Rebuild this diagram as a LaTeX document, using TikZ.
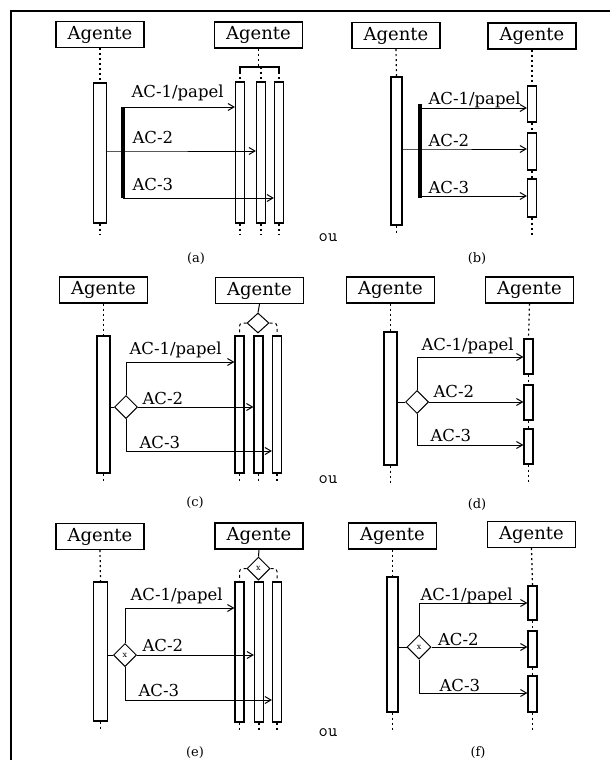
\documentclass[tikz,border=0pt]{standalone}
\usepackage{fontspec}
\setmainfont{DejaVu Serif}
\usepackage{tikz}
\usetikzlibrary{arrows.meta,shapes.geometric}

\begin{document}
\begin{tikzpicture}[
  x=1pt, y=-1pt,
  agent/.style={
    draw,
    line width=1.3pt,
    inner sep=0pt,
    minimum width=88pt,
    minimum height=26pt,
    font=\fontsize{18}{18}\selectfont
  },
  actbar/.style={draw, line width=1.2pt, inner sep=0pt, minimum width=13pt},
  thinbar/.style={actbar, minimum width=9pt},
  life/.style={line width=1.2pt, dash pattern=on 2pt off 3pt},
  msg/.style={line width=1pt, -{Straight Barb[length=6pt,width=7pt]}},
  link/.style={line width=1pt},
  fork/.style={line width=4pt},
  bracket/.style={line width=2pt},
  choice/.style={
    draw,
    diamond,
    line width=1pt,
    inner sep=0pt,
    minimum width=23pt,
    minimum height=23pt,
    fill=white,
    font=\fontsize{8}{8}\selectfont
  },
  alt/.style={line width=1pt, dashed, rounded corners=3pt},
  lbl/.style={anchor=base west, inner sep=0pt, font=\fontsize{16.5}{16.5}\selectfont},
  caption/.style={font=\fontsize{13}{13}\selectfont},
  orword/.style={font=\ttfamily\fontsize{18}{18}\selectfont}
]
\useasboundingbox (0,0) rectangle (610,760);

% Frame
\draw[line width=2pt] (11,760) -- (11,11) -- (610,11);

% (a) fork to three roles
\node[agent] (a-src) at (100,34.5) {Agente};
\node[agent] (a-dst) at (258.5,35) {Agente};
\node[actbar, minimum height=140pt] (a-bar) at (100,153) {};
\node[thinbar, minimum height=141pt] (a-r1) at (240,152.5) {};
\node[thinbar, minimum height=141pt] (a-r2) at (261,152.5) {};
\node[thinbar, minimum height=141pt] (a-r3) at (279,152.5) {};
\coordinate (a-bl) at (258.5,67);
\coordinate (a-f1) at (123,107);
\coordinate (a-f2) at (123,151);
\coordinate (a-f3) at (123,198);

\draw[life] (a-src.south) -- (a-bar.north);
\draw[life] (a-bar.south) -- ++(0,11);
\draw[life] (a-dst.south) -- (a-bl);
\draw[bracket] (a-r1.north |- a-bl) ++(0,5) -- ++(0,-5) -- (a-r3.north |- a-bl) -- ++(0,5);
\foreach \b in {a-r1,a-r2,a-r3} {
  \draw[life] (\b.north |- a-bl) -- (\b.north);
  \draw[life] (\b.south) -- ++(0,11);
}
\draw[fork] (a-f1) -- (a-f3);
\draw[msg] (a-f1) -- node[lbl, pos=0, xshift=8, yshift=10] (a-l1) {AC-1/papel} (a-f1 -| a-r1.west);
\draw[msg] (a-bar.east |- a-f2) -- (a-f2) node[lbl, xshift=9, yshift=7.5] (a-l2) {AC-2} -- (a-f2 -| a-r2.west);
\draw[msg] (a-f3) -- node[lbl, pos=0, xshift=9, yshift=8] (a-l3) {AC-3} (a-f3 -| a-r3.west);
\node[caption] (a-cap) at (196,259) {(a)};
\node[orword] (ou-1) at (328,238) {ou};

% (b) fork to one role
\node[agent] (b-src) at (396,35.5) {Agente};
\node[agent] (b-dst) at (532,36) {Agente};
\node[actbar, minimum width=11pt, minimum height=148pt] (b-bar) at (396.5,151) {};
\node[thinbar, minimum height=36pt] (b-r1) at (532,104) {};
\node[thinbar, minimum height=37pt] (b-r2) at (532,151.5) {};
\node[thinbar, minimum height=38pt] (b-r3) at (532,198) {};
\coordinate (b-ft) at (420,104);
\coordinate (b-f1) at (420,108);
\coordinate (b-f2) at (420,149);
\coordinate (b-f3) at (420,198);

\draw[life] (b-src.south) -- (b-bar.north);
\draw[life] (b-bar.south) -- ++(0,9);
\draw[life] (b-dst.south) -- (b-r1.north);
\draw[life] (b-r1.south) -- (b-r2.north);
\draw[life] (b-r2.south) -- (b-r3.north);
\draw[life] (b-r3.south) -- ++(0,17);
\draw[fork] (b-ft) -- (b-f3);
\draw[msg] (b-f1) -- node[lbl, pos=0, xshift=8, yshift=4] (b-l1) {AC-1/papel} (b-f1 -| b-r1.west);
\draw[msg] (b-bar.east |- b-f2) -- (b-f2) node[lbl, xshift=8, yshift=3] (b-l2) {AC-2} -- (b-f2 -| b-r2.west);
\draw[msg] ([yshift=2pt]b-f3) -- node[lbl, pos=0, xshift=8, yshift=3] (b-l3) {AC-3} ([yshift=2pt]b-f3 -| b-r3.west);
\node[caption] (b-cap) at (477,259) {(b)};

% (c) decision to three roles
\node[agent] (c-src) at (103.5,290) {Agente};
\node[agent] (c-dst) at (259.5,290.5) {Agente};
\node[actbar, minimum height=137pt] (c-bar) at (103.5,404.5) {};
\node[thinbar, minimum height=137pt] (c-r1) at (239.5,404.5) {};
\node[thinbar, minimum height=137pt] (c-r2) at (258.5,404.5) {};
\node[thinbar, minimum height=137pt] (c-r3) at (277,404.5) {};
\node[choice, minimum width=22pt, minimum height=20pt] (c-dd) at (258,323) {};
\node[choice] (c-dl) at (126,407) {};
\coordinate (c-t1) at (126,362);
\coordinate (c-t3) at (126,451);

\draw[life] (c-src.south) -- (c-bar.north);
\draw[life] (c-bar.south) -- ++(0,8);
\draw[link] (c-dst.south) -- (c-dd.north);
\draw[alt] (c-dd.west) -| (c-r1.north);
\draw[alt] (c-dd.east) -| (c-r3.north);
\foreach \b in {c-r1,c-r2,c-r3}
  \draw[life] (\b.south) -- ++(0,8);
\draw[link] (c-bar.east |- c-dl.west) -- (c-dl.west);
\draw[msg] (c-dl.north) -- (c-t1) -- node[lbl, pos=0, xshift=3, yshift=8] (c-l1) {AC-1/papel} (c-t1 -| c-r1.west);
\draw[msg] (c-dl.east) -- node[lbl, pos=0, xshift=4, yshift=3] (c-l2) {AC-2} (c-dl.east -| c-r2.west);
\draw[msg] (c-dl.south) -- (c-t3) -- node[lbl, pos=0, xshift=13, yshift=3] (c-l3) {AC-3} (c-t3 -| c-r3.west);
\node[caption] (c-cap) at (195,503) {(c)};
\node[orword] (ou-2) at (328,480) {ou};

% (d) decision to one role
\node[agent] (d-src) at (390.5,290) {Agente};
\node[agent] (d-dst) at (529.5,290) {Agente};
\node[actbar, minimum height=133pt] (d-bar) at (390.5,398.5) {};
\node[thinbar, minimum height=35pt] (d-r1) at (528.5,356.5) {};
\node[thinbar, minimum height=35pt] (d-r2) at (528.5,402.5) {};
\node[thinbar, minimum height=35pt] (d-r3) at (528.5,446.5) {};
\node[choice] (d-dl) at (417,402) {};
\coordinate (d-t1) at (417,357);
\coordinate (d-t3) at (417,445);

\draw[life] (d-src.south) -- (d-bar.north);
\draw[life] (d-bar.south) -- ++(0,17);
\draw[life] (d-dst.south) -- (d-r1.north);
\draw[life] (d-r1.south) -- (d-r2.north);
\draw[life] (d-r2.south) -- (d-r3.north);
\draw[life] (d-r3.south) -- ++(0,19);
\draw[link] (d-bar.east |- d-dl.west) -- (d-dl.west);
\draw[msg] (d-dl.north) -- (d-t1) -- node[lbl, pos=0, xshift=4, yshift=7] (d-l1) {AC-1/papel} (d-t1 -| d-r1.west);
\draw[msg] (d-dl.east) -- node[lbl, pos=0, xshift=4, yshift=5] (d-l2) {AC-2} (d-dl.east -| d-r2.west);
\draw[msg] (d-dl.south) -- (d-t3) -- node[lbl, pos=0, xshift=13, yshift=4] (d-l3) {AC-3} (d-t3 -| d-r3.west);
\node[caption] (d-cap) at (477,505) {(d)};

% (e) exclusive decision to three roles
\node[agent] (e-src) at (100,536.5) {Agente};
\node[agent] (e-dst) at (259,536) {Agente};
\node[actbar, minimum width=14pt, minimum height=139pt] (e-bar) at (100.5,651.5) {};
\node[thinbar, minimum height=140pt] (e-r1) at (239.5,652) {};
\node[thinbar, minimum height=140pt] (e-r2) at (259,652) {};
\node[thinbar, minimum height=140pt] (e-r3) at (277,652) {};
\node[choice] (e-dd) at (258.5,568.5) {x};
\node[choice] (e-dl) at (125,655) {x};
\coordinate (e-t1) at (125,608);
\coordinate (e-t3) at (125,700);

\draw[life] (e-src.south) -- (e-bar.north);
\draw[life] (e-bar.south) -- ++(0,8);
\draw[link] (e-dst.south) -- (e-dd.north);
\draw[alt] (e-dd.west) -| (e-r1.north);
\draw[alt] (e-dd.east) -| (e-r3.north);
\foreach \b in {e-r1,e-r2,e-r3}
  \draw[life] (\b.south) -- ++(0,8);
\draw[link] (e-bar.east |- e-dl.west) -- (e-dl.west);
\draw[msg] (e-dl.north) -- (e-t1) -- node[lbl, pos=0, xshift=5, yshift=8] (e-l1) {AC-1/papel} (e-t1 -| e-r1.west);
\draw[msg] (e-dl.east) -- node[lbl, pos=0, xshift=5, yshift=4] (e-l2) {AC-2} (e-dl.east -| e-r2.west);
\draw[msg] (e-dl.south) -- (e-t3) -- node[lbl, pos=0, xshift=13, yshift=4] (e-l3) {AC-3} (e-t3 -| e-r3.west);
\node[caption] (e-cap) at (195,753) {(e)};
\node[orword] (ou-3) at (328,733) {ou};

% (f) exclusive decision to one role
\node[agent] (f-src) at (392.5,536) {Agente};
\node[agent] (f-dst) at (531.5,534.5) {Agente};
\node[actbar, minimum width=11pt, minimum height=135pt] (f-bar) at (392.5,644.5) {};
\node[thinbar, minimum height=34pt] (f-r1) at (532.5,603) {};
\node[thinbar, minimum height=36pt] (f-r2) at (532.5,649) {};
\node[thinbar, minimum height=36pt] (f-r3) at (532.5,694) {};
\node[choice, minimum width=24pt, minimum height=24pt] (f-dl) at (419,647) {x};
\coordinate (f-t1) at (419,603);
\coordinate (f-t3) at (419,693);

\draw[life] (f-src.south) -- (f-bar.north);
\draw[life] (f-bar.south) -- ++(0,18);
\draw[life] (f-dst.south) -- (f-r1.north);
\draw[life] (f-r1.south) -- (f-r2.north);
\draw[life] (f-r2.south) -- (f-r3.north);
\draw[life] (f-r3.south) -- ++(0,18);
\draw[link] (f-bar.east |- f-dl.west) -- (f-dl.west);
\draw[msg] (f-dl.north) -- (f-t1) -- node[lbl, pos=0, xshift=1, yshift=3] (f-l1) {AC-1/papel} (f-t1 -| f-r1.west);
\draw[msg] (f-dl.east) -- node[lbl, pos=0, xshift=6, yshift=2] (f-l2) {AC-2} (f-dl.east -| f-r2.west);
\draw[msg] (f-dl.south) -- (f-t3) -- node[lbl, pos=0, xshift=20, yshift=2] (f-l3) {AC-3} (f-t3 -| f-r3.west);
\node[caption] (f-cap) at (478,753) {(f)};
\end{tikzpicture}
\end{document}
